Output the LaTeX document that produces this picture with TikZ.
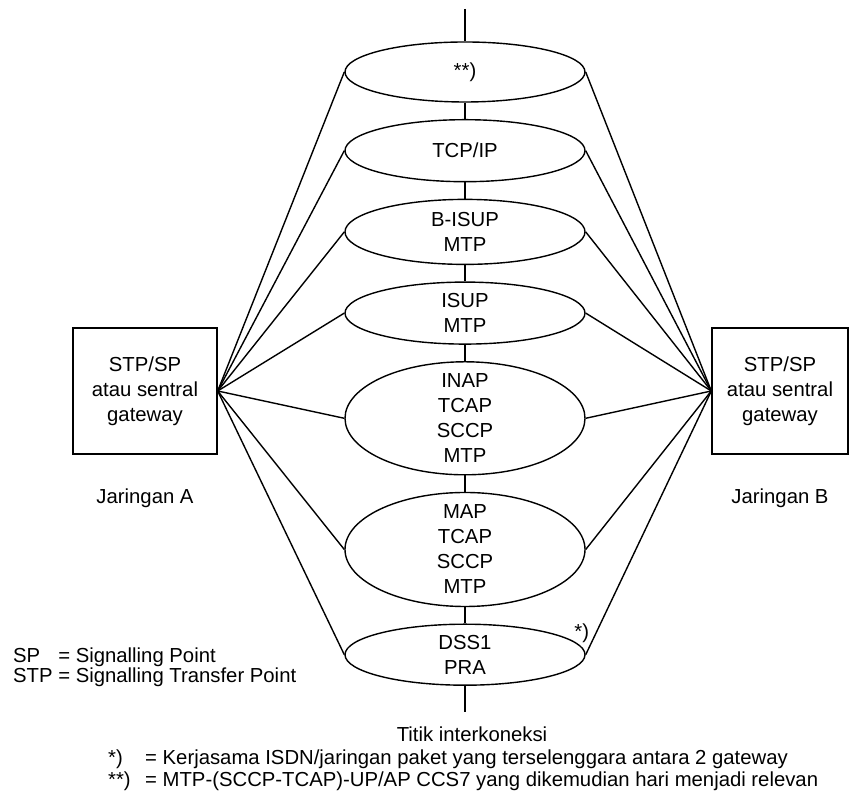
\documentclass[tikz,border=0pt]{standalone}
\usepackage{fontspec}
\setmainfont{Liberation Sans}
\usetikzlibrary{positioning,shapes.geometric}
\tikzset{
    layer/.style={draw, ellipse, line width=1.4pt, align=center,
        font=\fontsize{20.3}{25}\selectfont,
        minimum width=240pt, inner xsep=0pt, inner ysep=-12pt},
    gwbox/.style={draw, line width=1.4pt, align=center,
        font=\fontsize{20.3}{25}\selectfont, minimum height=126pt},
    note/.style={inner sep=0pt, align=left, font=\fontsize{20.3}{22}\selectfont},
    link/.style={line width=1.4pt}
}

\begin{document}
\begin{tikzpicture}[x=1pt, y=1pt, node distance=16.3pt]
\useasboundingbox (0,0) rectangle (849,805);
% protocol layers at the interconnection point
\node[layer, minimum height=60pt] (ccs) at (465,733) {**)};
\node[layer, minimum height=62pt, below=of ccs] (tcpip) {TCP/IP};
\node[layer, minimum height=65pt, below=of tcpip] (bisup) {B-ISUP\\MTP};
\node[layer, minimum height=62pt, below=of bisup] (isup) {ISUP\\MTP};
\node[layer, minimum height=113pt, below=of isup] (inap) {INAP\\TCAP\\SCCP\\MTP};
\node[layer, minimum height=114pt, below=of inap] (map) {MAP\\TCAP\\SCCP\\MTP};
\node[layer, minimum height=61pt, below=of map] (dss) {DSS1\\PRA};
\node[note, above=12pt of dss.east, xshift=-4pt] (dssnote) {*)};
% gateways of both networks
\node[gwbox, minimum width=144pt] (gwA) at (145,414) {STP/SP\\atau sentral\\gateway};
\node[gwbox, minimum width=136pt] (gwB) at (780,414) {STP/SP\\atau sentral\\gateway};
\node[note, below=34pt of gwA] (netA) {Jaringan A};
\node[note, below=34pt of gwB] (netB) {Jaringan B};
\coordinate (axtop) at (465,796);
\coordinate (axbot) at (465,93);
\node[note, anchor=base] (titik) at (472,63) {Titik interkoneksi};
\node[note, anchor=north west, font=\fontsize{20.3}{20}\selectfont] (legend) at (13,157)
    {SP\phantom{T} = Signalling Point\\STP = Signalling Transfer Point};
\node[note, anchor=north west] (foot) at (108,55)
    {\makebox[37pt][l]{*)}= Kerjasama ISDN/jaringan paket yang terselenggara antara 2 gateway\\
     \makebox[37pt][l]{**)}= MTP-(SCCP-TCAP)-UP/AP CCS7 yang dikemudian hari menjadi relevan};
% vertical axis
\draw[link] (axtop) -- (ccs.north);
\draw[link] (ccs) -- (tcpip);
\draw[link] (tcpip) -- (bisup);
\draw[link] (bisup) -- (isup);
\draw[link] (isup) -- (inap);
\draw[link] (inap) -- (map);
\draw[link] (map) -- (dss);
\draw[link] (dss.south) -- (axbot);
% fan from the gateways
\foreach \l in {ccs,tcpip,bisup,isup,inap,map,dss} {
    \draw[link] (gwA.east) -- (\l.west);
    \draw[link] (gwB.west) -- (\l.east);
}
\end{tikzpicture}
\end{document}
